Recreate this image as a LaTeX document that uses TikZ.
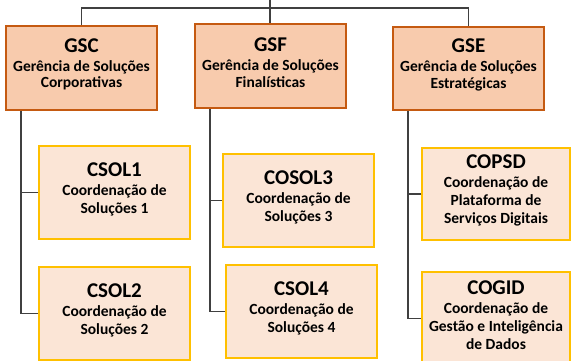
\documentclass[tikz,border=0pt]{standalone}
\usepackage{fontspec}
\setmainfont{Carlito}[BoldFont={Carlito Bold}]
\definecolor{gborder}{HTML}{C55A11}
\definecolor{gfill}{HTML}{F8CBAD}
\definecolor{cborder}{HTML}{FFC000}
\definecolor{cfill}{HTML}{FBE5D6}
\definecolor{lineC}{HTML}{404040}
\newcommand{\gttl}[1]{{\fontsize{21}{22}\selectfont #1}\\[2.5pt]}
\newcommand{\cttl}[1]{{\fontsize{21}{22}\selectfont #1}\\[1pt]}
\tikzset{
  gbox/.style={draw=gborder, fill=gfill, line width=1.6pt, minimum width=151pt, minimum height=84pt, inner sep=0pt},
  cbox/.style={draw=cborder, fill=cfill, line width=1.6pt, minimum width=151pt, minimum height=93pt, inner sep=0pt},
  gtext/.style={inner sep=0pt, align=center, font=\bfseries\fontsize{15.5}{16.5}\selectfont, yshift=3.5pt},
  ctext/.style={inner sep=0pt, align=center, font=\bfseries\fontsize{15.5}{18}\selectfont, yshift=3.5pt},
  conn/.style={draw=lineC, line width=1.5pt}
}
\begin{document}
\begin{tikzpicture}[x=1pt,y=-1pt]
\useasboundingbox (0,0) rectangle (571,361);
\coordinate (top) at (270,0);
\coordinate (bar) at (0,8);
\coordinate (t1) at (21,0);
\coordinate (t2) at (210,0);
\coordinate (t3) at (408,0);
\begin{scope}
\clip (0,0) rectangle (571,361);
\node[gbox] (gsc) at (81.5,68) {};
\node[gbox] (gsf) at (270.5,66) {};
\node[gbox, minimum height=83pt] (gse) at (468.5,68.5) {};
\node[cbox] (csol1) at (114.5,192.5) {};
\node[cbox] (csol2) at (114.5,313.5) {};
\node[cbox] (cosol3) at (298.5,200.5) {};
\node[cbox] (csol4) at (301.5,311.5) {};
\node[cbox, minimum width=148pt, minimum height=92pt] (copsd) at (496,194) {};
\node[cbox, minimum width=148pt, minimum height=93pt] (cogid) at (496,318.5) {};
\node[gtext] (gsc-t) at (gsc.center) {\gttl{GSC}Gerência de Soluções\\Corporativas};
\node[gtext] (gsf-t) at (gsf.center) {\gttl{GSF}Gerência de Soluções\\Finalísticas};
\node[gtext] (gse-t) at (gse.center) {\gttl{GSE}Gerência de Soluções\\Estratégicas};
\node[ctext] (csol1-t) at (csol1.center) {\cttl{CSOL1}Coordenação de\\Soluções 1};
\node[ctext] (csol2-t) at (csol2.center) {\cttl{CSOL2}Coordenação de\\Soluções 2};
\node[ctext] (cosol3-t) at (cosol3.center) {\cttl{COSOL3}Coordenação de\\Soluções 3};
\node[ctext] (csol4-t) at (csol4.center) {\cttl{CSOL4}Coordenação de\\Soluções 4};
\node[ctext] (copsd-t) at (copsd.center) {\cttl{COPSD}Coordenação de\\Plataforma de\\Serviços Digitais};
\node[ctext] (cogid-t) at (cogid.center) {\cttl{COGID}Coordenação de\\Gestão e Inteligência\\de Dados};
\end{scope}
\draw[conn] (top) -- (gsf.north -| top);
\draw[conn] (gsc.north) -- (gsc.north |- bar) -- (gse.north |- bar) -- (gse.north);
\draw[conn] (gsc.south -| t1) |- (csol2.west);
\draw[conn] (csol1.west) -- (csol1.west -| t1);
\draw[conn] (gsf.south -| t2) |- (csol4.west);
\draw[conn] (cosol3.west) -- (cosol3.west -| t2);
\draw[conn] (gse.south -| t3) |- (cogid.west);
\draw[conn] (copsd.west) -- (copsd.west -| t3);
\end{tikzpicture}
\end{document}
